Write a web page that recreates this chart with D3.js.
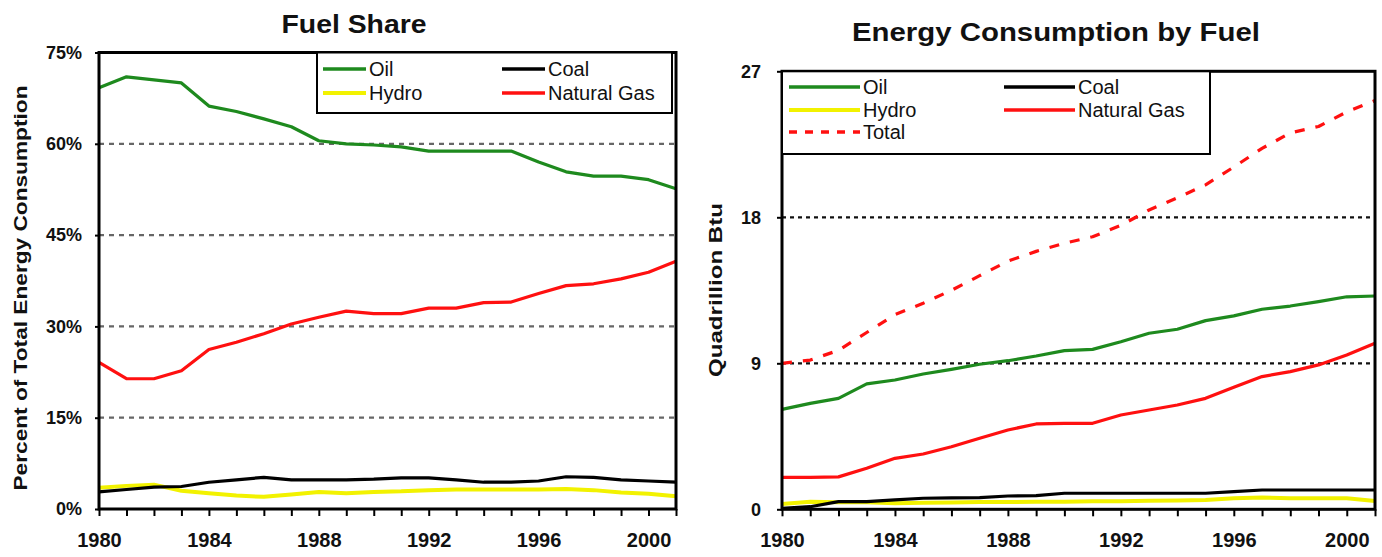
<!DOCTYPE html>
<html><head><meta charset="utf-8">
<script src="https://cdn.jsdelivr.net/npm/d3@7/dist/d3.min.js"></script>
<style>body{margin:0;background:#fff}svg{display:block}</style>
</head><body>
<svg id="c" width="1382" height="557"></svg>
<script>
// ---------- data ----------
const years = [1980,1981,1982,1983,1984,1985,1986,1987,1988,1989,1990,1991,1992,1993,1994,1995,1996,1997,1998,1999,2000,2001];
const yearTicks = [1980,1984,1988,1992,1996,2000];

// Fuel Share (percent of total energy consumption)
const shareOil   = [69.2,71.0,70.5,70.0,66.2,65.3,64.1,62.8,60.5,60.0,59.8,59.5,58.8,58.8,58.8,58.8,57.0,55.4,54.7,54.7,54.1,52.6];
const shareCoal  = [2.8,3.2,3.6,3.7,4.4,4.8,5.2,4.8,4.8,4.8,4.9,5.1,5.1,4.8,4.4,4.4,4.6,5.3,5.2,4.8,4.6,4.4];
const shareHydro = [3.5,3.8,4.0,3.0,2.6,2.2,2.0,2.4,2.8,2.6,2.8,2.9,3.1,3.2,3.2,3.2,3.2,3.3,3.1,2.7,2.5,2.1];
const shareGas   = [24.1,21.4,21.4,22.7,26.2,27.4,28.8,30.4,31.5,32.5,32.1,32.1,33.0,33.0,33.9,34.0,35.4,36.7,37.0,37.8,38.9,40.7];
const shareTicks = [0,15,30,45,60,75];

// Energy Consumption by Fuel (quadrillion Btu)
const btuOil   = [6.16,6.53,6.84,7.73,7.97,8.34,8.63,8.94,9.16,9.45,9.78,9.86,10.33,10.85,11.10,11.63,11.92,12.33,12.53,12.80,13.10,13.15];
const btuCoal  = [0.06,0.16,0.47,0.47,0.58,0.68,0.70,0.72,0.82,0.84,0.99,0.99,0.99,0.99,0.99,0.99,1.09,1.19,1.19,1.19,1.19,1.19];
const btuHydro = [0.33,0.47,0.43,0.43,0.37,0.40,0.42,0.45,0.45,0.46,0.47,0.49,0.50,0.52,0.55,0.58,0.68,0.72,0.68,0.68,0.68,0.51];
const btuGas   = [1.97,1.97,2.00,2.53,3.14,3.41,3.86,4.38,4.89,5.26,5.30,5.30,5.81,6.12,6.43,6.84,7.52,8.18,8.49,8.90,9.51,10.23];
const btuTotal = [9.0,9.2,9.8,10.9,12.0,12.7,13.5,14.4,15.3,15.9,16.4,16.8,17.5,18.45,19.2,20.0,21.1,22.25,23.2,23.6,24.5,25.2];
const btuTicks = [0,9,18,27];

const seriesNames = ["Oil","Coal","Hydro","Natural Gas","Total"];
const colors = {"Oil":"#1e8a1e","Coal":"#000000","Hydro":"#f2f200","Natural Gas":"#ff1010","Total":"#ff1010"};

// ---------- drawing ----------
const svg = d3.select("#c");
const FONT = "'Liberation Sans', Arial, sans-serif";

function panel(cfg){
  const g = svg.append("g");
  const x = d3.scaleLinear().domain([years[0], years[years.length-1]]).range([cfg.left, cfg.right]);
  const y = d3.scaleLinear().domain([0, cfg.ticks[cfg.ticks.length-1]]).range([cfg.bottom, cfg.top]);

  // gridlines
  g.selectAll("line.grid").data(cfg.ticks.slice(1,-1)).join("line")
    .attr("x1", cfg.left).attr("x2", cfg.right)
    .attr("y1", d=>y(d)).attr("y2", d=>y(d))
    .attr("stroke", cfg.gridColor).attr("stroke-width", 2.2)
    .attr("stroke-dasharray", cfg.gridDash);

  // series
  const line = d3.line().x((d,i)=>x(years[i])).y(d=>y(d));
  cfg.series.forEach(s=>{
    g.append("path").datum(s.values).attr("d", line)
      .attr("fill","none").attr("stroke", colors[s.name])
      .attr("stroke-width", s.name==="Hydro"?4:3.2)
      .attr("stroke-linejoin","round")
      .attr("stroke-dasharray", s.name==="Total"?"10,11":null);
  });

  // frame
  g.append("rect").attr("x", cfg.left).attr("y", cfg.top)
    .attr("width", cfg.right-cfg.left).attr("height", cfg.bottom-cfg.top)
    .attr("fill","none").attr("stroke","#000").attr("stroke-width",3);

  // y axis
  const ya = g.append("g").attr("transform",`translate(${cfg.left},0)`)
    .call(d3.axisLeft(y).tickValues(cfg.ticks).tickSize(cfg.yTickSize).tickPadding(cfg.yPad).tickFormat(cfg.yFmt));
  ya.select(".domain").remove();
  ya.selectAll(".tick line").attr("stroke","#000").attr("stroke-width",2);
  ya.selectAll("text").attr("font-family",FONT).attr("font-weight","bold")
    .attr("font-size",18).attr("fill","#111");

  // x axis
  const xa = g.append("g").attr("transform",`translate(0,${cfg.bottom})`)
    .call(d3.axisBottom(x).tickValues(years).tickSize(7).tickPadding(17)
      .tickFormat(d=> yearTicks.includes(d)? String(d) : ""));
  xa.select(".domain").remove();
  xa.selectAll(".tick line").attr("stroke","#000").attr("stroke-width",2);
  xa.selectAll("text").attr("font-family",FONT).attr("font-weight","bold")
    .attr("font-size",20).attr("fill","#111");

  // title
  g.append("text").attr("x", cfg.titleX).attr("y", cfg.titleY)
    .attr("text-anchor","middle").attr("font-family",FONT).attr("font-weight","bold")
    .attr("font-size",25).attr("fill","#111")
    .attr("textLength", cfg.titleLen).attr("lengthAdjust","spacingAndGlyphs")
    .text(cfg.title);

  // y title
  g.append("text").attr("transform",`translate(${cfg.yTitleX},${cfg.yTitleY}) rotate(-90)`)
    .attr("text-anchor","middle").attr("dy","0.35em")
    .attr("font-family",FONT).attr("font-weight","bold").attr("font-size",18).attr("fill","#111")
    .attr("textLength", cfg.yTitleLen).attr("lengthAdjust","spacingAndGlyphs")
    .text(cfg.yTitle);

  // legend
  const L = cfg.legend;
  const lg = g.append("g");
  lg.append("rect").attr("x",L.x0).attr("y",L.y0).attr("width",L.x1-L.x0).attr("height",L.y1-L.y0)
    .attr("fill","#fff").attr("stroke","#000").attr("stroke-width",2);
  L.items.forEach(it=>{
    const lx = L.cols[it.col], ly = L.rows[it.row];
    lg.append("line").attr("x1",lx).attr("x2",lx+L.lineLen).attr("y1",ly).attr("y2",ly)
      .attr("stroke",colors[it.name]).attr("stroke-width", it.name==="Hydro"?4:3.5)
      .attr("stroke-dasharray", it.name==="Total"?"8,8":null);
    lg.append("text").attr("x",lx+L.lineLen+3).attr("y",ly+7)
      .attr("font-family",FONT).attr("font-size",L.fontSize).attr("fill","#111")
      .text(it.name);
  });
}

panel({
  left:99, right:676, top:52.5, bottom:509,
  ticks: shareTicks, yFmt: d=>d+"%", yTickSize:4, yPad:13,
  gridColor:"#666", gridDash:"5,5",
  series:[
    {name:"Hydro", values:shareHydro},
    {name:"Coal", values:shareCoal},
    {name:"Natural Gas", values:shareGas},
    {name:"Oil", values:shareOil}
  ],
  title:"Fuel Share", titleX:354, titleY:33, titleLen:145,
  yTitle:"Percent of Total Energy Consumption", yTitleX:21, yTitleY:288, yTitleLen:405,
  legend:{x0:317,y0:52.5,x1:672,y1:113, cols:[323,502], rows:[69,93], lineLen:43, fontSize:20,
    items:[{name:"Oil",col:0,row:0},{name:"Coal",col:1,row:0},{name:"Hydro",col:0,row:1},{name:"Natural Gas",col:1,row:1}]}
});

panel({
  left:782, right:1375, top:71.3, bottom:509.3,
  ticks: btuTicks, yFmt: d=>String(d), yTickSize:5, yPad:16,
  gridColor:"#111", gridDash:"4,4",
  series:[
    {name:"Hydro", values:btuHydro},
    {name:"Coal", values:btuCoal},
    {name:"Natural Gas", values:btuGas},
    {name:"Oil", values:btuOil},
    {name:"Total", values:btuTotal}
  ],
  title:"Energy Consumption by Fuel", titleX:1056, titleY:41, titleLen:408,
  yTitle:"Quadrillion Btu", yTitleX:716, yTitleY:290, yTitleLen:174,
  legend:{x0:782,y0:71.3,x1:1210,y1:154, cols:[789,1004], rows:[87,110,132], lineLen:71, fontSize:20,
    items:[{name:"Oil",col:0,row:0},{name:"Coal",col:1,row:0},{name:"Hydro",col:0,row:1},{name:"Natural Gas",col:1,row:1},{name:"Total",col:0,row:2}]}
});
</script>
</body></html>
